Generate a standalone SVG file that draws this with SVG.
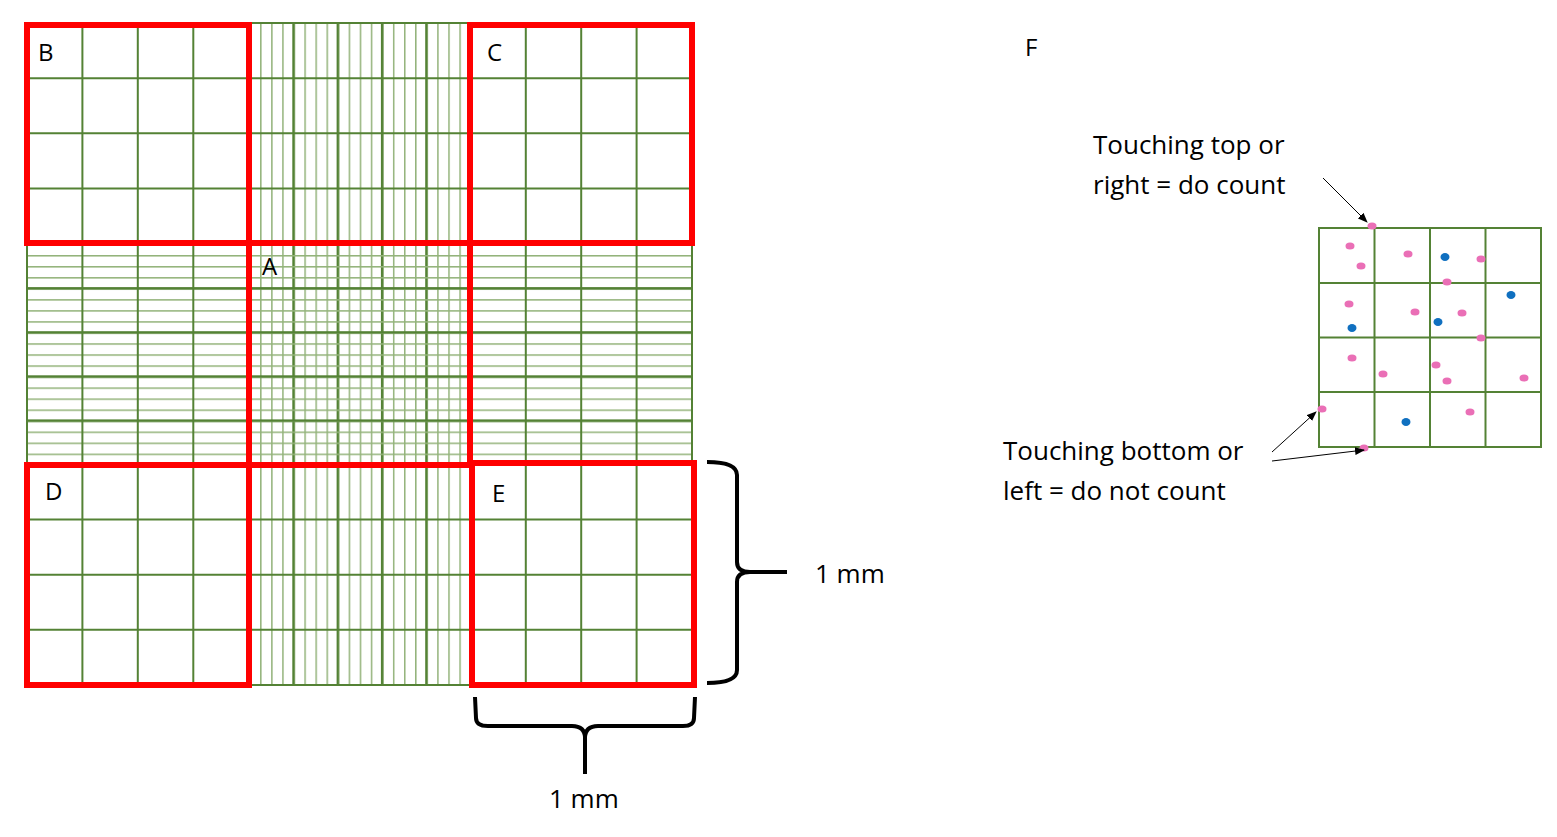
<svg xmlns="http://www.w3.org/2000/svg" width="1557" height="837" viewBox="0 0 1557 837">
<style>
.t{font-family:"Open Sans","Liberation Sans",sans-serif;fill:#000}
.c{stroke:#548235;stroke-width:2}
.red{fill:none;stroke:#ff0000;stroke-width:6}
.br{fill:none;stroke:#000;stroke-width:4}
.pk{fill:#ea6fb6}.bl{fill:#1070c0}
.ar{stroke:#000;stroke-width:1;marker-end:url(#ah)}
</style>
<defs>
<marker id="ah" markerWidth="10" markerHeight="8" refX="9" refY="4" orient="auto" markerUnits="userSpaceOnUse"><path d="M0,0L10,4L0,8z" fill="#000"/></marker>
<pattern id="fv" patternUnits="userSpaceOnUse" x="249" y="0" width="11.07" height="10"><rect x="0" y="0" width="1.5" height="10" fill="#93b37a"/></pattern>
<pattern id="dv" patternUnits="userSpaceOnUse" x="248" y="0" width="44.3" height="10"><rect x="0" y="0" width="2.5" height="10" fill="#548235"/></pattern>
<pattern id="fh" patternUnits="userSpaceOnUse" x="0" y="244" width="10" height="11.03"><rect x="0" y="0" width="10" height="1.5" fill="#93b37a"/></pattern>
<pattern id="dh" patternUnits="userSpaceOnUse" x="0" y="243" width="10" height="44.1"><rect x="0" y="0" width="10" height="2.5" fill="#548235"/></pattern>
</defs>
<rect width="1557" height="837" fill="#fff"/>
<g id="grid">
<rect x="249" y="23" width="222" height="662" fill="url(#fv)"/>
<rect x="249" y="23" width="222" height="662" fill="url(#dv)"/>
<rect x="27" y="244" width="665" height="221" fill="url(#fh)"/>
<rect x="27" y="244" width="665" height="221" fill="url(#dh)"/>
<g class="c">
<line x1="27" y1="23" x2="27" y2="685"/><line x1="82.4" y1="23" x2="82.4" y2="685"/><line x1="137.8" y1="23" x2="137.8" y2="685"/><line x1="193.3" y1="23" x2="193.3" y2="685"/><line x1="248.7" y1="23" x2="248.7" y2="685"/><line x1="470.4" y1="23" x2="470.4" y2="685"/><line x1="525.8" y1="23" x2="525.8" y2="685"/><line x1="581.2" y1="23" x2="581.2" y2="685"/><line x1="636.6" y1="23" x2="636.6" y2="685"/><line x1="692" y1="23" x2="692" y2="685"/>
<line x1="27" y1="23" x2="692" y2="23"/><line x1="27" y1="78.2" x2="692" y2="78.2"/><line x1="27" y1="133.3" x2="692" y2="133.3"/><line x1="27" y1="188.5" x2="692" y2="188.5"/><line x1="27" y1="243.7" x2="692" y2="243.7"/><line x1="27" y1="464.3" x2="692" y2="464.3"/><line x1="27" y1="519.5" x2="692" y2="519.5"/><line x1="27" y1="574.7" x2="692" y2="574.7"/><line x1="27" y1="629.8" x2="692" y2="629.8"/><line x1="27" y1="685" x2="692" y2="685"/>
</g>
</g>
<g id="squares">
<rect class="red" x="27" y="25" width="222" height="218"/>
<rect class="red" x="470" y="25" width="222" height="218"/>
<rect class="red" x="249" y="243" width="221" height="222"/>
<rect class="red" x="27" y="465" width="222" height="220"/>
<rect class="red" x="472" y="463" width="222" height="222"/>
</g>
<g id="labels" font-size="24">
<text class="t" x="38" y="61" font-size="24">B</text>
<text class="t" x="487" y="61" font-size="24">C</text>
<text class="t" x="262" y="275" font-size="24">A</text>
<text class="t" x="45" y="500" font-size="24">D</text>
<text class="t" x="492" y="502" font-size="24">E</text>
<text class="t" x="1025" y="56" font-size="24">F</text>
</g>
<g id="brackets">
<path class="br" d="M707,462 Q737,462 737,475 L737,562 Q737,572 750,572 L787,572 M750,572 Q737,572 737,582 L737,670 Q737,683 707,683"/>
<path class="br" d="M475,697 L476,718 Q476,726 488,726 L572,726 Q585,726 585,738 L585,774 M585,738 Q585,726 598,726 L683,726 Q694,726 694,718 L695,697"/>
<text class="t" x="815" y="583" font-size="26">1 mm</text>
<text class="t" x="549" y="808" font-size="26">1 mm</text>
</g>
<g id="cell">
<rect x="1319" y="228" width="222" height="219" fill="none" stroke="#548235" stroke-width="2"/>
<g class="c"><line x1="1374.5" y1="228" x2="1374.5" y2="447"/><line x1="1430" y1="228" x2="1430" y2="447"/><line x1="1485.5" y1="228" x2="1485.5" y2="447"/><line x1="1319" y1="283" x2="1541" y2="283"/><line x1="1319" y1="337.5" x2="1541" y2="337.5"/><line x1="1319" y1="392" x2="1541" y2="392"/></g>
<g class="pk">
<ellipse cx="1372" cy="226" rx="4.5" ry="3.5"/><ellipse cx="1350" cy="246" rx="4.5" ry="3.5"/><ellipse cx="1361" cy="266" rx="4.5" ry="3.5"/><ellipse cx="1408" cy="254" rx="4.5" ry="3.5"/><ellipse cx="1481" cy="259" rx="4.5" ry="3.5"/><ellipse cx="1447" cy="282" rx="4.5" ry="3.5"/><ellipse cx="1349" cy="304" rx="4.5" ry="3.5"/><ellipse cx="1415" cy="312" rx="4.5" ry="3.5"/><ellipse cx="1462" cy="313" rx="4.5" ry="3.5"/><ellipse cx="1481" cy="338" rx="4.5" ry="3.5"/><ellipse cx="1352" cy="358" rx="4.5" ry="3.5"/><ellipse cx="1383" cy="374" rx="4.5" ry="3.5"/><ellipse cx="1436" cy="365" rx="4.5" ry="3.5"/><ellipse cx="1447" cy="381" rx="4.5" ry="3.5"/><ellipse cx="1524" cy="378" rx="4.5" ry="3.5"/><ellipse cx="1322" cy="409" rx="4.5" ry="3.5"/><ellipse cx="1470" cy="412" rx="4.5" ry="3.5"/><ellipse cx="1364" cy="448" rx="4.5" ry="3.5"/>
</g>
<g class="bl">
<ellipse cx="1445" cy="257" rx="4.5" ry="4"/><ellipse cx="1511" cy="295" rx="4.5" ry="4"/><ellipse cx="1438" cy="322" rx="4.5" ry="4"/><ellipse cx="1352" cy="328" rx="4.5" ry="4"/><ellipse cx="1406" cy="422" rx="4.5" ry="4"/>
</g>
</g>
<g id="connectors">
<line class="ar" x1="1323" y1="178" x2="1367" y2="222"/>
<line class="ar" x1="1272" y1="452" x2="1316" y2="412"/>
<line class="ar" x1="1272" y1="461" x2="1364" y2="450"/>
</g>
<g id="notes">
<text class="t" x="1093" y="154" font-size="26">Touching top or</text>
<text class="t" x="1093" y="194" font-size="26">right = do count</text>
<text class="t" x="1003" y="460" font-size="26">Touching bottom or</text>
<text class="t" x="1003" y="500" font-size="26">left = do not count</text>
</g>
</svg>
